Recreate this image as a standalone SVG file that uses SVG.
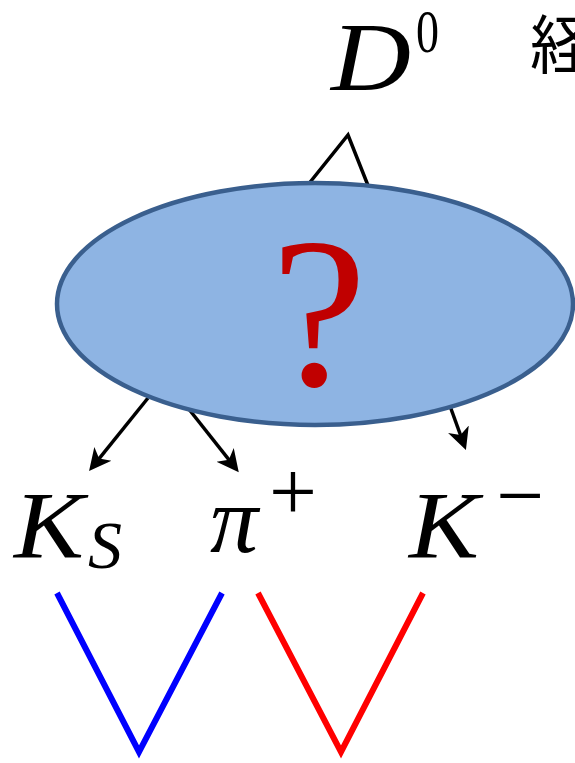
<svg xmlns="http://www.w3.org/2000/svg" width="575" height="763" viewBox="0 0 575 763">
<style>
.m{font-family:"Liberation Serif","Times New Roman",serif;font-style:italic;fill:#000}
.r{font-family:"Liberation Serif","Times New Roman",serif;fill:#000}
.c{stroke:#000;stroke-width:3.5;fill:none}
</style>
<defs>
<marker id="ah" markerUnits="userSpaceOnUse" markerWidth="24" markerHeight="24" viewBox="0 0 24 24" refX="14" refY="12" orient="auto">
<path d="M22,12 L0,1 L6,12 L0,23 z" fill="#000"/>
</marker>
</defs>
<rect width="575" height="763" fill="#fff"/>
<g id="connectors">
<polyline class="c" points="307,186 348,135 369,188"/>
<line class="c" x1="148" y1="398" x2="94.1" y2="464.8" marker-end="url(#ah)"/>
<line class="c" x1="188" y1="408" x2="233.8" y2="465.9" marker-end="url(#ah)"/>
<line class="c" x1="450" y1="406" x2="463.2" y2="442.5" marker-end="url(#ah)"/>
</g>
<g id="D0">
<text class="m" x="331" y="90" font-size="98" textLength="80" lengthAdjust="spacingAndGlyphs">D</text>
<text class="r" x="416" y="52" font-size="62" textLength="23" lengthAdjust="spacingAndGlyphs">0</text>
</g>
<g id="label-jp">
<text x="530" y="68" font-size="64" font-family="'Noto Sans CJK JP','Noto Sans CJK SC',sans-serif" fill="#000">経</text>
</g>
<g id="ellipse">
<ellipse cx="315" cy="304" rx="258" ry="121" fill="#8EB4E3" stroke="#3A5F8E" stroke-width="4.5"/>
<text x="319" y="385" font-size="215" text-anchor="middle" font-family="'Liberation Serif','Times New Roman',serif" fill="#C00000">?</text>
</g>
<g id="KS">
<text class="m" x="14" y="558" font-size="96" textLength="70" lengthAdjust="spacingAndGlyphs">K</text>
<text class="m" x="88" y="568" font-size="68">S</text>
</g>
<g id="piplus">
<text class="m" x="210" y="552" font-size="96">π</text>
<text class="r" x="269" y="520" font-size="85" textLength="48" lengthAdjust="spacingAndGlyphs">+</text>
</g>
<g id="Kminus">
<text class="m" x="409" y="558" font-size="96" textLength="70" lengthAdjust="spacingAndGlyphs">K</text>
<text class="r" x="496" y="524" font-size="85" textLength="48" lengthAdjust="spacingAndGlyphs">−</text>
</g>
<g id="v-blue">
<polyline points="57,593 139,752 222,593" fill="none" stroke="#0000FF" stroke-width="6"/>
</g>
<g id="v-red">
<polyline points="258,593 341,752 423,593" fill="none" stroke="#FF0000" stroke-width="6"/>
</g>
</svg>
